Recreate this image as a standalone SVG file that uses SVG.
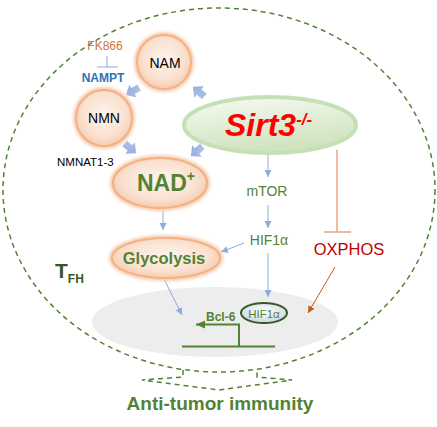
<svg xmlns="http://www.w3.org/2000/svg" width="437" height="427" viewBox="0 0 437 427">
<style>
text{font-family:"Liberation Sans",Arial,sans-serif}
.cell{fill:none;stroke:#548235;stroke-width:1.5;stroke-dasharray:5 4}
.blue{stroke:#8faadc;stroke-width:1;fill:none;marker-end:url(#ab)}
.grn{fill:#548235}
.met{fill:url(#peach);stroke:#f4b183;stroke-width:2}
.glow{fill:none;stroke:#f8cbad;stroke-width:6;filter:url(#soft)}
.blk{fill:url(#bg)}
</style>
<defs>
<filter id="soft" x="-20%" y="-20%" width="140%" height="140%"><feGaussianBlur stdDeviation="1.5"/></filter>
<radialGradient id="peach" cx="50%" cy="45%" r="55%">
<stop offset="0" stop-color="#fdf4ee"/><stop offset="0.7" stop-color="#fae1d0"/><stop offset="1" stop-color="#f5ccb0"/>
</radialGradient>
<linearGradient id="sg" x1="0" y1="0" x2="0.3" y2="1">
<stop offset="0" stop-color="#f7fbf3"/><stop offset="1" stop-color="#cfe3bf"/>
</linearGradient>
<radialGradient id="hg" cx="50%" cy="40%" r="60%">
<stop offset="0" stop-color="#ffffff"/><stop offset="1" stop-color="#c9d6e8"/>
</radialGradient>
<linearGradient id="bg" x1="0" y1="0" x2="1" y2="1">
<stop offset="0" stop-color="#b4c7e7"/><stop offset="1" stop-color="#8faadc"/>
</linearGradient>
<marker id="ab" markerWidth="8" markerHeight="8" refX="7" refY="4" orient="auto" markerUnits="userSpaceOnUse">
<path d="M0,0.5 L7,4 L0,7.5 Z" fill="#8faadc"/>
</marker>
<marker id="ao" markerWidth="8" markerHeight="8" refX="7" refY="4" orient="auto" markerUnits="userSpaceOnUse">
<path d="M0,0.5 L7,4 L0,7.5 Z" fill="#c55a11"/>
</marker>
<marker id="ag" markerWidth="10" markerHeight="10" refX="9" refY="5" orient="auto" markerUnits="userSpaceOnUse">
<path d="M0,1 L9,5 L0,9 Z" fill="#548235"/>
</marker>
<polygon id="blkp" points="-7,-3.5 0,-3.5 0,-7.5 8,0 0,7.5 0,3.5 -7,3.5"/>
</defs>

<g id="cell">
<ellipse class="cell" cx="219" cy="190" rx="216" ry="182"/>
<path class="cell" d="M183,370 L183,377 L142,380 L219,390 L292,380 L257,377 L257,370"/>
</g>

<g id="nucleus">
<ellipse cx="215" cy="322" rx="123" ry="35" fill="#ededed"/>
</g>

<g id="connectors">
<use href="#blkp" class="blk" transform="translate(133,91) rotate(150)"/>
<use href="#blkp" class="blk" transform="translate(199,92) rotate(220)"/>
<use href="#blkp" class="blk" transform="translate(130,148) rotate(40)"/>
<use href="#blkp" class="blk" transform="translate(197,151) rotate(140)"/>
<line x1="107" y1="56" x2="107" y2="67" stroke="#8faadc" stroke-width="1"/>
<line x1="97" y1="67" x2="118" y2="67" stroke="#8faadc" stroke-width="1"/>
<line class="blue" x1="268" y1="154" x2="268" y2="177"/>
<line class="blue" x1="268" y1="205" x2="268" y2="228"/>
<line class="blue" x1="244" y1="243" x2="221" y2="252"/>
<line class="blue" x1="268" y1="253" x2="268" y2="297"/>
<line class="blue" x1="163" y1="211" x2="163" y2="230"/>
<line class="blue" x1="164" y1="279" x2="182" y2="315"/>
<line x1="337" y1="150" x2="337" y2="232" stroke="#eaa57d" stroke-width="1.5"/>
<line x1="324" y1="232" x2="351" y2="232" stroke="#eaa57d" stroke-width="1.5"/>
<line x1="335" y1="267" x2="308" y2="313" stroke="#c55a11" stroke-width="1" marker-end="url(#ao)"/>
<path d="M182,346.5 L275,346.5 M239,346.5 L239,324.5 L196,324.5" fill="none" stroke="#548235" stroke-width="2" marker-end="url(#ag)"/>
</g>

<g id="nam">
<circle class="glow" cx="164" cy="62" r="27"/>
<circle class="met" cx="164" cy="62" r="27"/>
<text x="165" y="68" font-size="14" text-anchor="middle" fill="#000">NAM</text>
</g>
<g id="nmn">
<circle class="glow" cx="104" cy="118" r="28"/>
<circle class="met" cx="104" cy="118" r="28"/>
<text x="104" y="123" font-size="14" text-anchor="middle" fill="#000">NMN</text>
</g>
<g id="nad">
<ellipse class="glow" cx="160" cy="183" rx="47" ry="25"/>
<ellipse class="met" cx="160" cy="183" rx="47" ry="25"/>
<text x="137" y="191" font-size="23" font-weight="bold" class="grn">NAD<tspan font-size="14" dy="-10">+</tspan></text>
</g>
<g id="glycolysis">
<ellipse class="glow" cx="166" cy="258" rx="54" ry="20"/>
<ellipse class="met" cx="166" cy="258" rx="54" ry="20"/>
<text x="164" y="264" font-size="16.5" font-weight="bold" text-anchor="middle" class="grn">Glycolysis</text>
</g>
<g id="sirt3">
<ellipse cx="270" cy="125" rx="86" ry="28" fill="url(#sg)" stroke="#c5e0b4" stroke-width="4"/>
<text x="225" y="136" font-size="32" font-weight="bold" font-style="italic" fill="#f00">Sirt3<tspan font-size="17" dy="-11">-/-</tspan></text>
</g>
<g id="labels">
<text x="105" y="50" font-size="12" text-anchor="middle" fill="#d0743c">FK866</text>
<text x="103" y="82" font-size="12" font-weight="bold" text-anchor="middle" fill="#2e75b6">NAMPT</text>
<text x="57" y="166" font-size="11.5" fill="#000">NMNAT1-3</text>
<text x="267" y="196" font-size="14" text-anchor="middle" class="grn">mTOR</text>
<text x="269" y="245" font-size="14" text-anchor="middle" class="grn">HIF1α</text>
<text x="349" y="255" font-size="16.5" text-anchor="middle" fill="#c00000">OXPHOS</text>
<text x="55" y="278" font-size="21" font-weight="bold" fill="#385723">T<tspan font-size="12" dy="5">FH</tspan></text>
</g>
<g id="hif1a-nuc">
<ellipse cx="264" cy="313" rx="23" ry="10" fill="url(#hg)" stroke="#385723" stroke-width="2"/>
<text x="264" y="317.5" font-size="11.5" text-anchor="middle" fill="#548235">HIF1α</text>
</g>
<g id="bcl6">
<text x="206" y="321" font-size="12" font-weight="bold" class="grn">Bcl-6</text>
</g>
<g id="outcome">
<text x="220" y="410" font-size="19" font-weight="bold" text-anchor="middle" class="grn">Anti-tumor immunity</text>
</g>
</svg>
